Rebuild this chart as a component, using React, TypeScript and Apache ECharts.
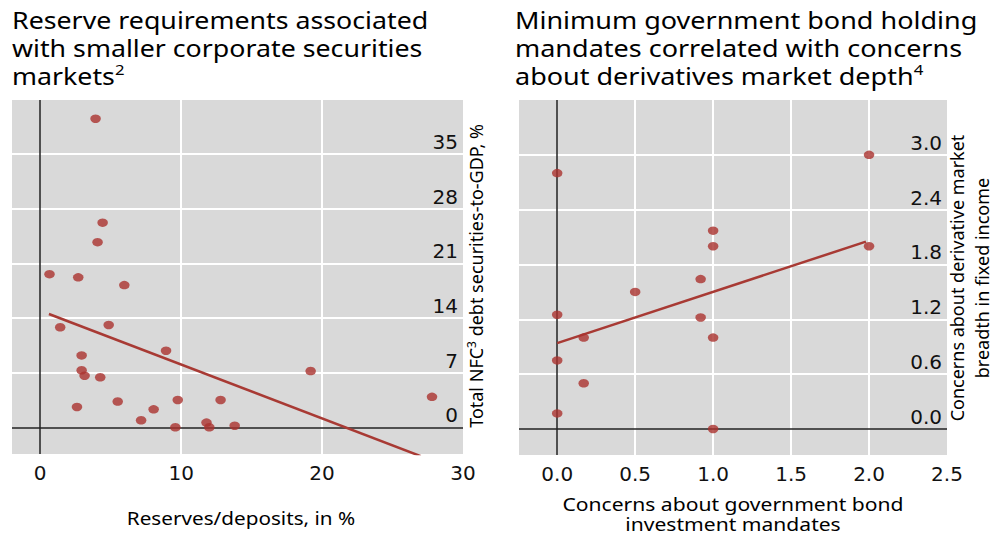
import React, { useEffect, useRef } from "react";
import * as echarts from "echarts";

// Left panel: reserve requirements vs corporate securities market size
const leftX = [3.93, 4.43, 4.07, 0.66, 2.7, 5.97, 1.42, 4.86, 8.93, 2.94, 2.94, 3.15, 4.26, 19.19, 27.8, 2.61, 5.5, 9.76, 12.8, 8.05, 7.16, 9.59, 11.8, 12.0, 13.8];
const leftY = [39.5, 26.2, 23.7, 19.6, 19.2, 18.2, 12.8, 13.1, 9.8, 9.2, 7.3, 6.6, 6.4, 7.2, 3.9, 2.6, 3.3, 3.5, 3.5, 2.3, 0.9, 0.0, 0.6, 0.0, 0.2];
const leftTrend = [[0.62, 14.5], [27, -3.7]];
const leftXTicks = [0, 10, 20, 30];
const leftXGrid = [10, 20];
const leftYTicks = [0, 7, 14, 21, 28, 35];

// Right panel: government bond mandates vs derivative market depth
const rightX = [0, 0, 0, 0, 0.17, 0.17, 0.5, 0.92, 0.92, 1, 1, 1, 1, 2, 2];
const rightY = [2.8, 1.25, 0.75, 0.17, 1.0, 0.5, 1.5, 1.64, 1.22, 2.17, 2.0, 1.0, 0.0, 3.0, 2.0];
const rightTrend = [[0, 0.94], [1.98, 2.05]];
const rightXTicks = [0, 0.5, 1, 1.5, 2, 2.5];
const rightXGrid = [0.5, 1, 1.5, 2];
const rightYTicks = [0, 0.6, 1.2, 1.8, 2.4, 3.0];

const DOT = "#aa322e";
const LINE = "#a83a34";
const BG = "#d9d9d9";
const TICKFONT = "DejaVu Sans";
const TEXTFONT = "Noto Sans";

function zip(xs: number[], ys: number[]) {
  return xs.map((x, i) => [x, ys[i]]);
}

function gridMarks(xs: number[], ys: number[]) {
  const white = { color: "#ffffff", width: 2, type: "solid" };
  const black = { color: "#222222", width: 1.5, type: "solid" };
  return {
    silent: true,
    symbol: "none",
    z: 1,
    label: { show: false },
    emphasis: { disabled: true },
    data: [
      ...xs.map((v) => ({ xAxis: v, lineStyle: white })),
      ...ys.map((v) => ({ yAxis: v, lineStyle: white })),
      { xAxis: 0, lineStyle: black },
      { yAxis: 0, lineStyle: black },
    ],
  };
}

export default function App() {
  const ref = useRef<HTMLDivElement>(null);
  useEffect(() => {
    document.body.style.margin = "0";
    const chart = echarts.init(ref.current!, null, { renderer: "svg" });
    const tickLabel = {
      fontFamily: TICKFONT,
      fontSize: 20,
      color: "#111",
    };
    const xAxisBase = {
      type: "value",
      axisLine: { show: false },
      splitLine: { show: false },
      axisTick: { show: true, inside: true, length: 14, lineStyle: { color: "#222", width: 1.5 } },
      axisLabel: { ...tickLabel, margin: 9, showMinLabel: true, showMaxLabel: true },
    };
    const yAxisBase = {
      type: "value",
      position: "right",
      axisLine: { show: false },
      splitLine: { show: false },
      axisTick: { show: false },
      axisLabel: { ...tickLabel, inside: true, margin: 5, verticalAlign: "bottom", lineHeight: 20, padding: [0, 0, 2, 0], showMinLabel: true, showMaxLabel: true },
    };
    const supStyle = { fontSize: 15, verticalAlign: "top", lineHeight: 20, fill: "#000", fontFamily: TEXTFONT };
    const option: any = {
      animation: false,
      grid: [
        { left: 12, top: 100, width: 451, height: 354, show: true, backgroundColor: BG, borderWidth: 0 },
        { left: 519, top: 100, width: 428, height: 355, show: true, backgroundColor: BG, borderWidth: 0 },
      ],
      xAxis: [
        {
          ...xAxisBase,
          gridIndex: 0,
          min: -2,
          max: 30,
          axisTick: { ...xAxisBase.axisTick, customValues: leftXGrid },
          axisLabel: { ...xAxisBase.axisLabel, customValues: leftXTicks },
        },
        {
          ...xAxisBase,
          gridIndex: 1,
          min: -0.245,
          max: 2.5,
          axisTick: { ...xAxisBase.axisTick, customValues: rightXGrid },
          axisLabel: {
            ...xAxisBase.axisLabel,
            customValues: rightXTicks,
            formatter: (v: number) => v.toFixed(1),
          },
        },
      ],
      yAxis: [
        {
          ...yAxisBase,
          gridIndex: 0,
          min: -3.42,
          max: 41.9,
          axisLabel: { ...yAxisBase.axisLabel, customValues: leftYTicks },
        },
        {
          ...yAxisBase,
          gridIndex: 1,
          min: -0.285,
          max: 3.6,
          axisLabel: {
            ...yAxisBase.axisLabel,
            customValues: rightYTicks,
            formatter: (v: number) => v.toFixed(1),
          },
        },
      ],
      series: [
        {
          type: "scatter",
          xAxisIndex: 0,
          yAxisIndex: 0,
          data: zip(leftX, leftY),
          symbol: "circle",
          symbolSize: [10.5, 8.5],
          itemStyle: { color: DOT },
          z: 3,
          markLine: gridMarks(leftXGrid, leftYTicks.filter((v) => v !== 0)),
        },
        {
          type: "line",
          xAxisIndex: 0,
          yAxisIndex: 0,
          data: leftTrend,
          symbol: "none",
          lineStyle: { color: LINE, width: 2.5 },
          z: 2,
        },
        {
          type: "scatter",
          xAxisIndex: 1,
          yAxisIndex: 1,
          data: zip(rightX, rightY),
          symbol: "circle",
          symbolSize: [10.5, 8.5],
          itemStyle: { color: DOT },
          z: 3,
          markLine: gridMarks(rightXGrid, rightYTicks.filter((v) => v !== 0)),
        },
        {
          type: "line",
          xAxisIndex: 1,
          yAxisIndex: 1,
          data: rightTrend,
          symbol: "none",
          lineStyle: { color: LINE, width: 2.5 },
          z: 2,
        },
      ],
      graphic: [
        {
          type: "text",
          x: 12,
          y: 6,
          scaleX: 1.115,
          style: {
            text: "Reserve requirements associated\nwith smaller corporate securities\nmarkets{sup|2}",
            fontFamily: TEXTFONT,
            fontSize: 24,
            lineHeight: 28,
            fill: "#000",
            rich: { sup: supStyle },
          },
        },
        {
          type: "text",
          x: 515,
          y: 6,
          scaleX: 1.125,
          style: {
            text: "Minimum government bond holding\nmandates correlated with concerns\nabout derivatives market depth{sup|4}",
            fontFamily: TEXTFONT,
            fontSize: 24,
            lineHeight: 28,
            fill: "#000",
            rich: { sup: supStyle },
          },
        },
        {
          type: "text",
          x: 476,
          y: 276,
          rotation: Math.PI / 2,
          style: {
            text: "Total NFC{sup|3} debt securities-to-GDP, %",
            fontFamily: TEXTFONT,
            fontSize: 18,
            lineHeight: 22,
            align: "center",
            verticalAlign: "middle",
            fill: "#000",
            rich: { sup: { fontSize: 12, verticalAlign: "top", lineHeight: 14, fill: "#000", fontFamily: TEXTFONT } },
          },
        },
        {
          type: "text",
          x: 241,
          y: 518,
          scaleX: 1.09,
          style: {
            text: "Reserves/deposits, in %",
            fontFamily: TEXTFONT,
            fontSize: 19,
            align: "center",
            verticalAlign: "middle",
            fill: "#000",
          },
        },
        {
          type: "text",
          x: 733,
          y: 514,
          scaleX: 1.11,
          style: {
            text: "Concerns about government bond\ninvestment mandates",
            fontFamily: TEXTFONT,
            fontSize: 19,
            lineHeight: 20,
            align: "center",
            verticalAlign: "middle",
            fill: "#000",
          },
        },
        {
          type: "text",
          x: 969,
          y: 278,
          rotation: Math.PI / 2,
          style: {
            text: "Concerns about derivative market\nbreadth in fixed income",
            fontFamily: TEXTFONT,
            fontSize: 18,
            lineHeight: 25,
            align: "center",
            verticalAlign: "middle",
            fill: "#000",
          },
        },
      ],
    };
    chart.setOption(option);
    return () => chart.dispose();
  }, []);
  return <div ref={ref} style={{ width: 993, height: 537 }} />;
}
